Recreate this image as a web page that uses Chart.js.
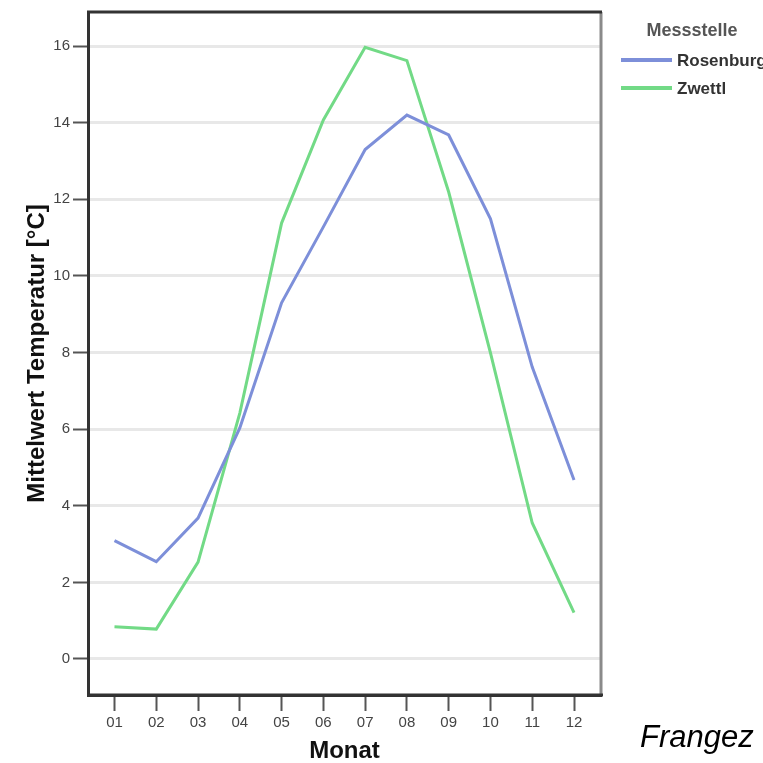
<!DOCTYPE html>
<html lang="de">
<head>
<meta charset="utf-8">
<title>Mittelwert Temperatur nach Monat</title>
<script src="https://cdn.jsdelivr.net/npm/chart.js@4.4.1/dist/chart.umd.min.js"></script>
<style>
    html, body { margin: 0; padding: 0; background: #fff; }
    #wrap { position: relative; width: 763px; height: 763px; }
    #tempChart { display: block; }
    #sign {
        position: absolute; left: 640px; top: 721px;
        font-family: "Liberation Sans", Arial, sans-serif;
        font-style: italic; font-size: 31px; line-height: 1; color: #000;
    }
</style>
</head>
<body>
<div id="wrap">
    <canvas id="tempChart" width="763" height="763"></canvas>
    <div id="sign">Frangez</div>
</div>
<script>
// Daten
const monate = ['01', '02', '03', '04', '05', '06', '07', '08', '09', '10', '11', '12'];
const rosenburg = [3.09, 2.54, 3.68, 6.03, 9.30, 11.28, 13.30, 14.20, 13.68, 11.49, 7.62, 4.67];
const zwettl = [0.84, 0.78, 2.53, 6.42, 11.38, 14.07, 15.97, 15.62, 12.19, 7.99, 3.55, 1.21];
const yTickWerte = [0, 2, 4, 6, 8, 10, 12, 14, 16];

const FONT = '"Liberation Sans", Arial, sans-serif';

// Rahmen oben (dunkel) und rechts (grau)
const framePlugin = {
    id: 'frame',
    afterDraw(chart) {
        const { ctx, chartArea: a } = chart;
        ctx.save();
        ctx.strokeStyle = '#8a8a8a';
        ctx.lineWidth = 3;
        ctx.beginPath();
        ctx.moveTo(a.right, a.top);
        ctx.lineTo(a.right, a.bottom);
        ctx.stroke();
        ctx.strokeStyle = '#333';
        ctx.lineWidth = 3;
        ctx.beginPath();
        ctx.moveTo(a.left - 1, a.top);
        ctx.lineTo(a.right + 1, a.top);
        ctx.stroke();
        ctx.beginPath();
        ctx.moveTo(a.left, a.bottom);
        ctx.lineTo(a.right + 2, a.bottom);
        ctx.stroke();
        ctx.restore();
    }
};

// Legende rechts
const legendPlugin = {
    id: 'sideLegend',
    afterDraw(chart) {
        const { ctx } = chart;
        ctx.save();
        ctx.fillStyle = '#555';
        ctx.font = 'bold 18px ' + FONT;
        ctx.textAlign = 'center';
        ctx.textBaseline = 'middle';
        ctx.fillText('Messstelle', 692, 31);
        ctx.textAlign = 'left';
        ctx.font = 'bold 17px ' + FONT;
        chart.data.datasets.forEach((ds, i) => {
            const y = 60 + i * 28;
            ctx.strokeStyle = ds.borderColor;
            ctx.lineWidth = 4;
            ctx.beginPath();
            ctx.moveTo(621, y);
            ctx.lineTo(672, y);
            ctx.stroke();
            ctx.fillStyle = '#333';
            ctx.fillText(ds.label, 677, y + 1);
        });
        ctx.restore();
    }
};

const toPoints = arr => arr.map((v, i) => ({ x: i, y: v }));

new Chart(document.getElementById('tempChart'), {
    type: 'line',
    data: {
        datasets: [{
            label: 'Rosenburg',
            data: toPoints(rosenburg),
            borderColor: '#7d8fd9',
            borderWidth: 3,
            pointRadius: 0,
            tension: 0
        }, {
            label: 'Zwettl',
            data: toPoints(zwettl),
            borderColor: '#72da86',
            borderWidth: 3,
            pointRadius: 0,
            tension: 0
        }]
    },
    options: {
        responsive: false,
        animation: false,
        layout: { padding: { left: 0, top: 12, right: 162, bottom: 0 } },
        plugins: { legend: { display: false }, tooltip: { enabled: false } },
        scales: {
            x: {
                type: 'linear',
                min: -0.634,
                max: 11.646,
                afterFit(scale) { scale.height = 68; },
                afterBuildTicks(scale) {
                    scale.ticks = monate.map((m, i) => ({ value: i }));
                },
                ticks: {
                    callback: v => monate[v],
                    color: '#444',
                    font: { family: FONT, size: 15 },
                    padding: 3,
                    maxRotation: 0
                },
                grid: {
                    drawOnChartArea: false,
                    drawTicks: true,
                    tickLength: 16,
                    tickColor: '#555',
                    tickWidth: 2
                },
                border: { display: true, color: '#333', width: 3 },
                title: {
                    display: true,
                    text: 'Monat',
                    color: '#111',
                    font: { family: FONT, size: 24, weight: 'bold', lineHeight: 1 },
                    padding: { top: 0, bottom: 0 }
                }
            },
            y: {
                min: -0.94,
                max: 16.89,
                afterFit(scale) { scale.width = 88; },
                afterBuildTicks(scale) {
                    scale.ticks = yTickWerte.map(v => ({ value: v }));
                },
                ticks: {
                    color: '#444',
                    font: { family: FONT, size: 15 },
                    padding: 3
                },
                grid: {
                    color: '#e8e8e8',
                    lineWidth: 3,
                    drawTicks: true,
                    tickLength: 15,
                    tickColor: '#555',
                    tickWidth: 2
                },
                border: { display: true, color: '#333', width: 3 },
                title: {
                    display: true,
                    text: 'Mittelwert Temperatur [°C]',
                    color: '#111',
                    font: { family: FONT, size: 24, weight: 'bold', lineHeight: 1 },
                    padding: { top: 25, bottom: 0 }
                }
            }
        }
    },
    plugins: [framePlugin, legendPlugin]
});
</script>
</body>
</html>
